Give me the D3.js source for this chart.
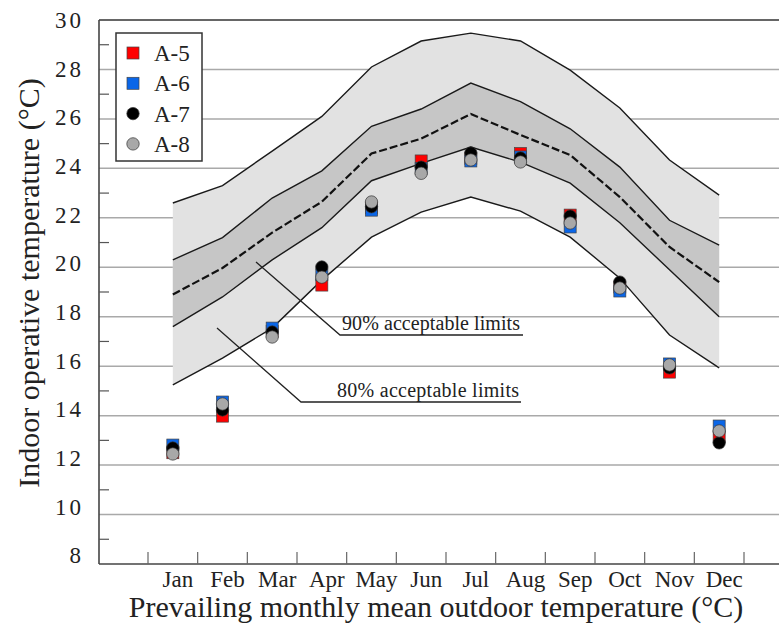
<!doctype html>
<html>
<head>
<meta charset="utf-8">
<script src="https://d3js.org/d3.v7.min.js"></script>
<style>
  body { margin: 0; background: #fff; }
  text { font-family: "Liberation Serif", "Times New Roman", serif; fill: #222; }
</style>
</head>
<body>
<div id="chart"></div>
<script>
const months = ["Jan", "Feb", "Mar", "Apr", "May", "Jun", "Jul", "Aug", "Sep", "Oct", "Nov", "Dec"];

// comfort band limits
const upper80 = [22.6, 23.3, 24.7, 26.1, 28.1, 29.15, 29.47, 29.15, 27.97, 26.44, 24.34, 22.92];
const upper90 = [20.3, 21.2, 22.8, 23.9, 25.7, 26.4, 27.45, 26.7, 25.6, 24.05, 21.9, 20.9];
const neutral = [18.9, 19.97, 21.4, 22.65, 24.6, 25.2, 26.2, 25.35, 24.54, 22.84, 20.82, 19.4];
const lower90 = [17.6, 18.8, 20.3, 21.6, 23.5, 24.2, 24.86, 24.25, 23.4, 21.8, 19.9, 18.0];
const lower80 = [15.24, 16.33, 17.54, 19.48, 21.22, 22.23, 22.84, 22.27, 21.22, 19.56, 17.26, 15.93];

// measured monthly operative temperatures
const a5 = [12.5, 13.98, 17.4, 19.28, 22.4, 24.3, 24.4, 24.6, 22.11, 19.2, 15.76, 13.14];
const a6 = [12.81, 14.55, 17.54, 19.7, 22.31, 24.0, 24.3, 24.46, 21.63, 19.04, 16.09, 13.58];
const a7 = [12.69, 14.23, 17.38, 20.01, 22.45, 24.05, 24.62, 24.42, 22.07, 19.4, 15.93, 12.9];
const a8 = [12.45, 14.47, 17.18, 19.6, 22.64, 23.8, 24.34, 24.26, 21.79, 19.16, 16.05, 13.38];

const yTicks = [8, 10, 12, 14, 16, 18, 20, 22, 24, 26, 28, 30];

const series = [
    {name: "A-5", values: a5, shape: "square", color: "#ff0000"},
    {name: "A-6", values: a6, shape: "square", color: "#0a66e8"},
    {name: "A-7", values: a7, shape: "circle", color: "#000000"},
    {name: "A-8", values: a8, shape: "circle", color: "#a8a8a8"}
];

const width = 779, height = 632;
const mLeft = 99, mRight = 779, mTop = 20, mBottom = 564;

const svg = d3.select("#chart").append("svg")
    .attr("width", width)
    .attr("height", height);

const x = d3.scaleBand().domain(months).range([148, 744]);
const cx = function (m) { return x(m) + x.bandwidth() / 2; };
const y = d3.scaleLinear().domain([8, 30]).range([mBottom, mTop]);

// horizontal grid
svg.selectAll("line.grid")
    .data(yTicks.filter(function (d) { return d > 8 && d < 30; }))
    .enter().append("line")
    .attr("class", "grid")
    .attr("x1", mLeft).attr("x2", mRight)
    .attr("y1", y).attr("y2", y)
    .attr("stroke", "#a9a9a9")
    .attr("stroke-width", 1.5);

// comfort bands
const rows = months.map(function (m, i) {
    return {m: m, u80: upper80[i], u90: upper90[i], n: neutral[i], l90: lower90[i], l80: lower80[i]};
});

const area80 = d3.area().x(function (d) { return cx(d.m); })
    .y0(function (d) { return y(d.l80); }).y1(function (d) { return y(d.u80); });
const area90 = d3.area().x(function (d) { return cx(d.m); })
    .y0(function (d) { return y(d.l90); }).y1(function (d) { return y(d.u90); });

svg.append("path").attr("d", area80(rows)).attr("fill", "#e2e2e2");
svg.append("path").attr("d", area90(rows)).attr("fill", "#c6c6c6");

function limitLine(key) {
    return d3.line().x(function (d) { return cx(d.m); }).y(function (d) { return y(d[key]); });
}

["u80", "u90", "l90", "l80"].forEach(function (k) {
    svg.append("path")
        .attr("d", limitLine(k)(rows))
        .attr("fill", "none")
        .attr("stroke", "#1a1a1a")
        .attr("stroke-width", 1.4);
});

svg.append("path")
    .attr("d", limitLine("n")(rows))
    .attr("fill", "none")
    .attr("stroke", "#111")
    .attr("stroke-width", 2.2)
    .attr("stroke-dasharray", "8,3");

// leaders for the band labels
svg.append("polyline")
    .attr("points", "256,262 340,335 523,335")
    .attr("fill", "none").attr("stroke", "#222").attr("stroke-width", 1.3);
svg.append("polyline")
    .attr("points", "217,328 301,402 521,402")
    .attr("fill", "none").attr("stroke", "#222").attr("stroke-width", 1.3);

svg.append("text").attr("x", 342).attr("y", 330)
    .attr("font-size", 20).attr("textLength", 178).text("90% acceptable limits");
svg.append("text").attr("x", 337).attr("y", 397)
    .attr("font-size", 20).attr("textLength", 182).text("80% acceptable limits");

// frame
svg.append("line").attr("x1", mLeft).attr("x2", mRight).attr("y1", mTop).attr("y2", mTop)
    .attr("stroke", "#666").attr("stroke-width", 2);
svg.append("line").attr("x1", mLeft).attr("x2", mLeft).attr("y1", mTop).attr("y2", mBottom)
    .attr("stroke", "#444").attr("stroke-width", 1.6);
svg.append("line").attr("x1", mLeft).attr("x2", mRight).attr("y1", mBottom).attr("y2", mBottom)
    .attr("stroke", "#444").attr("stroke-width", 1.6);

// minor y ticks
svg.selectAll("line.ytick")
    .data(d3.range(9, 30, 2))
    .enter().append("line")
    .attr("class", "ytick")
    .attr("x1", mLeft).attr("x2", mLeft + 10)
    .attr("y1", y).attr("y2", y)
    .attr("stroke", "#555").attr("stroke-width", 1.2);

// x ticks at month boundaries
const xEdges = months.map(function (m) { return x(m); }).concat([x.range()[1]]);
svg.selectAll("line.xtick")
    .data(xEdges)
    .enter().append("line")
    .attr("class", "xtick")
    .attr("x1", function (d) { return d; }).attr("x2", function (d) { return d; })
    .attr("y1", mBottom - 12).attr("y2", mBottom)
    .attr("stroke", "#666").attr("stroke-width", 1.2);

// tick labels (the original labels sit slightly above the lower grid lines)
svg.selectAll("text.ylab")
    .data(yTicks)
    .enter().append("text")
    .attr("class", "ylab")
    .attr("x", 81)
    .attr("y", function (d) { return y(d) - (30 - d) * 0.4; })
    .attr("dy", "0.35em")
    .attr("text-anchor", "end")
    .attr("font-size", 23)
    .attr("textLength", function (d) { return String(d).length * 13; })
    .text(String);

svg.selectAll("text.xlab")
    .data(months)
    .enter().append("text")
    .attr("class", "xlab")
    .attr("x", function (d) { return cx(d) + 5; })
    .attr("y", 587)
    .attr("text-anchor", "middle")
    .attr("font-size", 23)
    .text(String);

// axis titles
svg.append("text")
    .attr("x", 436).attr("y", 617)
    .attr("text-anchor", "middle")
    .attr("font-size", 30)
    .text("Prevailing monthly mean outdoor temperature (\u00b0C)");

svg.append("text")
    .attr("transform", "translate(39,283) rotate(-90)")
    .attr("text-anchor", "middle")
    .attr("font-size", 30)
    .text("Indoor operative temperature (\u00b0C)");

// markers
function drawMarker(g, s, px, py) {
    if (s.shape === "square") {
        g.append("rect")
            .attr("x", px - 6).attr("y", py - 6)
            .attr("width", 12).attr("height", 12)
            .attr("fill", s.color)
            .attr("stroke", "#444").attr("stroke-width", 0.7);
    } else {
        g.append("circle")
            .attr("cx", px).attr("cy", py).attr("r", 6.2)
            .attr("fill", s.color)
            .attr("stroke", "#333").attr("stroke-width", 0.7);
    }
}

series.forEach(function (s) {
    const g = svg.append("g").attr("class", "series");
    s.values.forEach(function (v, i) {
        drawMarker(g, s, cx(months[i]), y(v));
    });
});

// legend
const legend = svg.append("g").attr("class", "legend");
legend.append("rect")
    .attr("x", 116).attr("y", 33)
    .attr("width", 86).attr("height", 128)
    .attr("fill", "#fff")
    .attr("stroke", "#333").attr("stroke-width", 1.5);

series.forEach(function (s, i) {
    const ly = 53 + i * 30.3;
    drawMarker(legend, s, 133, ly);
    legend.append("text")
        .attr("x", 154).attr("y", ly)
        .attr("dy", "0.35em")
        .attr("font-size", 23)
        .text(s.name);
});
</script>
</body>
</html>
